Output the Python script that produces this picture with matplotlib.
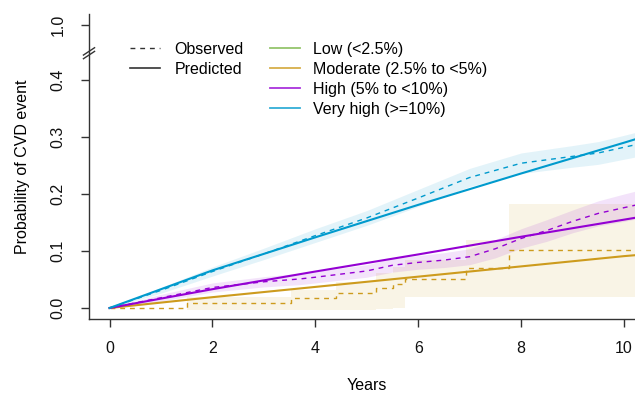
import numpy as np
import matplotlib
matplotlib.use("Agg")
import matplotlib.pyplot as plt
from matplotlib.lines import Line2D

plt.rcParams['font.family'] = ['Liberation Sans', 'DejaVu Sans']
plt.rcParams['font.size'] = 11.5

# colours per risk group
c_low = "#7AB648"
c_mod = "#CD9B1D"
c_high = "#9400D3"
c_vhigh = "#009ACD"

# Moderate: observed KM steps + band, predicted line
mod_t = [0, 1.51, 3.52, 4.40, 5.18, 5.51, 5.75, 6.93, 7.77, 10.4]
mod_obs = [0, 0.009, 0.018, 0.027, 0.035, 0.042, 0.051, 0.070, 0.102, 0.102]
mod_up = [0, 0.020, 0.032, 0.046, 0.062, 0.072, 0.085, 0.119, 0.183, 0.183]
mod_lo = [0, -0.004, -0.004, -0.004, -0.001, 0.0, 0.020, 0.020, 0.020, 0.020]
mod_pred_t = [0, 2, 4, 6, 8, 10, 10.4]
mod_pred = [0, 0.019, 0.037, 0.055, 0.073, 0.091, 0.094]

# High
high_t = [0, 1, 2, 3, 3.7, 4, 5, 5.5, 6, 6.5, 7, 7.5, 8, 8.5, 9, 9.5, 10, 10.4]
high_obs = [0, 0.018, 0.036, 0.046, 0.051, 0.054, 0.065, 0.075, 0.080, 0.084,
            0.090, 0.104, 0.122, 0.136, 0.152, 0.166, 0.176, 0.184]
high_hw = [0, 0.006, 0.008, 0.009, 0.010, 0.010, 0.011, 0.012, 0.012, 0.013,
           0.014, 0.016, 0.017, 0.019, 0.020, 0.022, 0.024, 0.025]
high_pred_t = [0, 2, 4, 6, 8, 10, 10.4]
high_pred = [0, 0.033, 0.064, 0.094, 0.125, 0.155, 0.161]

# Very high
vh_t = [0, 1, 2, 3, 4, 5, 6, 7, 8, 9, 9.5, 10, 10.4]
vh_obs = [0, 0.031, 0.064, 0.095, 0.127, 0.158, 0.193, 0.229, 0.254, 0.266,
          0.272, 0.282, 0.290]
vh_hw = [0, 0.005, 0.008, 0.010, 0.012, 0.013, 0.015, 0.016, 0.018, 0.019,
         0.020, 0.021, 0.022]
vh_pred_t = [0, 2, 4, 6, 8, 10, 10.4]
vh_pred = [0, 0.066, 0.124, 0.181, 0.236, 0.290, 0.301]

# y axis with a break: 1.0 is drawn just above the break
break_at = 0.447
top_pos = 0.4965
ytick_pos = [0, 0.1, 0.2, 0.3, 0.4, top_pos]
ytick_lab = ["0.0", "0.1", "0.2", "0.3", "0.4", "1.0"]
xticks = [0, 2, 4, 6, 8, 10]

fig = plt.figure(figsize=(6.35, 3.95), dpi=100)
ax = fig.add_axes([89 / 635, 1 - 319 / 395, (644.6 - 89) / 635, (319 - 14) / 395])

ax.fill_between(mod_t, mod_lo, mod_up, step="post", color=c_mod, alpha=0.11, lw=0)
hi = np.array(high_obs)
hw = np.array(high_hw)
ax.fill_between(high_t, hi - hw, hi + hw, color=c_high, alpha=0.11, lw=0)
vh = np.array(vh_obs)
vw = np.array(vh_hw)
ax.fill_between(vh_t, vh - vw, vh + vw, color=c_vhigh, alpha=0.11, lw=0)

dash = (0, (3.5, 3.5))
ax.plot(mod_t, mod_obs, drawstyle="steps-post", color=c_mod, lw=1, ls=dash)
ax.plot(high_t, high_obs, color=c_high, lw=1, ls=dash)
ax.plot(vh_t, vh_obs, color=c_vhigh, lw=1, ls=dash)

ax.plot(mod_pred_t, mod_pred, color=c_mod, lw=1.5)
ax.plot(high_pred_t, high_pred, color=c_high, lw=1.5)
ax.plot(vh_pred_t, vh_pred, color=c_vhigh, lw=1.5)

ax.set_xlim(-0.4, 10.4)
ax.set_ylim(-0.0193, 0.5158)
ax.set_xticks(xticks)
ax.set_xticklabels([str(v) for v in xticks])
ax.set_yticks(ytick_pos)
ax.set_yticklabels(ytick_lab, rotation=90, va="center")

for s in ["top", "right"]:
    ax.spines[s].set_visible(False)
for s in ["left", "bottom"]:
    ax.spines[s].set_color("#333333")
    ax.spines[s].set_linewidth(1)
ax.tick_params(axis="x", length=6, width=1, color="#333333", pad=10, labelcolor="#111111")
ax.tick_params(axis="y", length=6, width=1, color="#333333", pad=11, labelcolor="#111111")

# break marks on the y axis
yb = (break_at + 0.0193) / (0.5158 + 0.0193)
for off in (-0.006, 0.006):
    ax.plot([-0.01, 0.01], [yb + off - 0.012, yb + off + 0.012],
            transform=ax.transAxes, color="#333333", lw=1, clip_on=False)

ax.set_xlabel("Years", va="center")
ax.xaxis.set_label_coords(0.5, -(385 - 319) / 305)
ax.set_ylabel("Probability of CVD event", va="center", ha="center")
ax.yaxis.set_label_coords(-(89 - 22) / 555.6, 0.5)

h1 = [Line2D([], [], color="#333333", lw=1, ls=dash),
      Line2D([], [], color="#333333", lw=1.2)]
leg1 = ax.legend(h1, ["Observed", "Predicted"], loc="upper left",
                 bbox_to_anchor=(130 / 635, 1 - 42 / 395), bbox_transform=fig.transFigure,
                 frameon=False, borderpad=0, borderaxespad=0, handlelength=1.9,
                 handletextpad=0.9, labelspacing=0.31)
ax.add_artist(leg1)
h2 = [Line2D([], [], color=c, lw=1.3, alpha=0.8) for c in [c_low, c_mod, c_high, c_vhigh]]
ax.legend(h2, ["Low (<2.5%)", "Moderate (2.5% to <5%)", "High (5% to <10%)",
               "Very high (>=10%)"], loc="upper left",
          bbox_to_anchor=(270 / 635, 1 - 42 / 395), bbox_transform=fig.transFigure,
          frameon=False, borderpad=0, borderaxespad=0, handlelength=1.9,
          handletextpad=0.8, labelspacing=0.31)

fig.savefig("out.png", dpi=100)
